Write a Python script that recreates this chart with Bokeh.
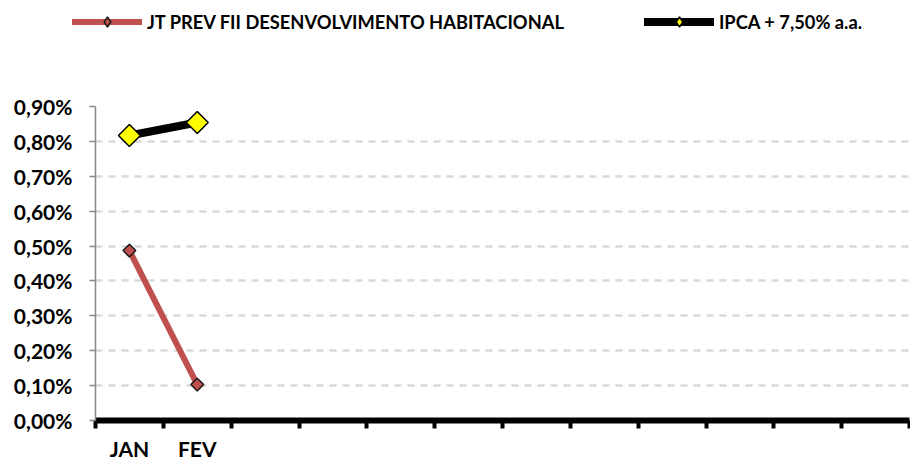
import numpy as np
from bokeh.plotting import figure
from bokeh.layouts import column
from bokeh.models import (Range1d, FixedTicker, CustomJSTickFormatter, Legend,
                          LegendItem, ColumnDataSource)
from bokeh.embed import file_html
from bokeh.resources import INLINE

# ---- data ----
months = ["JAN", "FEV"]
n_slots = 12
jt_prev = [0.487, 0.103]
ipca = [0.817, 0.854]
y_ticks = [0.0, 0.1, 0.2, 0.3, 0.4, 0.5, 0.6, 0.7, 0.8, 0.9]
series_names = ["JT PREV FII DESENVOLVIMENTO HABITACIONAL", "IPCA + 7,50% a.a."]

x_pos = [i + 0.5 for i in range(len(months))]
src = ColumnDataSource(dict(x=x_pos, jt=jt_prev, ipca=ipca))
boundaries = list(range(n_slots + 1))

FONT = "Lato"
RED = "#C0504D"

line_styles = {
    "jt": dict(line_color=RED, line_width=6, line_cap="round"),
    "ipca": dict(line_color="black", line_width=8, line_cap="round"),
}
point_styles = {
    "jt": dict(size=9, fill_color=RED, line_color="#1A1A1A", line_width=1.5),
    "ipca": dict(size=15.5, fill_color="#FFFF00", line_color="black", line_width=1.5),
}

# ---------------- main chart ----------------
p = figure(width=910, height=418, x_range=Range1d(0, n_slots), y_range=Range1d(0, 0.9),
           output_backend="svg", toolbar_location=None,
           min_border_left=95, min_border_right=1, min_border_top=61, min_border_bottom=43)
p.outline_line_color = None
p.frame_align = False

p.xgrid.visible = False
p.ygrid.ticker = FixedTicker(ticks=y_ticks)
p.ygrid.grid_line_color = "#D9D9D9"
p.ygrid.grid_line_width = 2.5
p.ygrid.grid_line_dash = "7 6"

xa = p.xaxis[0]
xa.ticker = FixedTicker(ticks=x_pos, minor_ticks=boundaries)
xa.major_label_overrides = {xv: m for xv, m in zip(x_pos, months)}
xa.major_tick_line_color = None
xa.major_tick_out = 0
xa.major_tick_in = 0
xa.minor_tick_line_color = "black"
xa.minor_tick_line_width = 4
xa.minor_tick_out = 8
xa.minor_tick_in = 0
xa.axis_line_color = "black"
xa.axis_line_width = 6
xa.major_label_text_font = FONT
xa.major_label_text_font_style = "bold"
xa.major_label_text_font_size = "21px"
xa.major_label_text_color = "black"
xa.major_label_standoff = 7

ya = p.yaxis[0]
ya.ticker = FixedTicker(ticks=y_ticks)
ya.formatter = CustomJSTickFormatter(code="return tick.toFixed(2).replace('.', ',') + '%';")
ya.axis_line_color = "#868686"
ya.axis_line_width = 1.5
ya.major_tick_line_color = "#868686"
ya.major_tick_line_width = 1.5
ya.major_tick_out = 6
ya.major_tick_in = 0
ya.minor_tick_line_color = None
ya.major_label_text_font = FONT
ya.major_label_text_font_style = "bold"
ya.major_label_text_font_size = "21px"
ya.major_label_text_color = "black"
ya.major_label_standoff = 17

p.line("x", "jt", source=src, **line_styles["jt"])
p.scatter("x", "jt", source=src, marker="square", angle=np.pi / 4, **point_styles["jt"])
p.line("x", "ipca", source=src, **line_styles["ipca"])
p.scatter("x", "ipca", source=src, marker="square", angle=np.pi / 4, **point_styles["ipca"])

# ---------------- legend strip ----------------
lg = figure(width=910, height=45, x_range=Range1d(100, 101), y_range=Range1d(100, 101),
            output_backend="svg", toolbar_location=None, x_axis_type=None, y_axis_type=None,
            min_border=0)
lg.outline_line_color = None
lg.grid.visible = False
lg.frame_align = False
a1 = lg.line("x", "jt", source=src, **line_styles["jt"])
a2 = lg.scatter("x", "jt", source=src, marker="diamond", **point_styles["jt"])
b1 = lg.line("x", "ipca", source=src, **line_styles["ipca"])
b2 = lg.scatter("x", "ipca", source=src, marker="diamond", **point_styles["ipca"])

legend = Legend(items=[LegendItem(label=series_names[0], renderers=[a1, a2]),
                       LegendItem(label=series_names[1], renderers=[b1, b2])],
                orientation="horizontal", location=(72, 11),
                glyph_width=70, glyph_height=25, label_standoff=5, spacing=80,
                padding=0, margin=0, border_line_color=None, background_fill_alpha=0,
                label_text_font=FONT, label_text_font_style="bold",
                label_text_font_size="18.3px", label_text_color="black")
lg.add_layout(legend, "center")

layout = column(lg, p, spacing=0)
open("out.html", "w").write(file_html(layout, INLINE))
